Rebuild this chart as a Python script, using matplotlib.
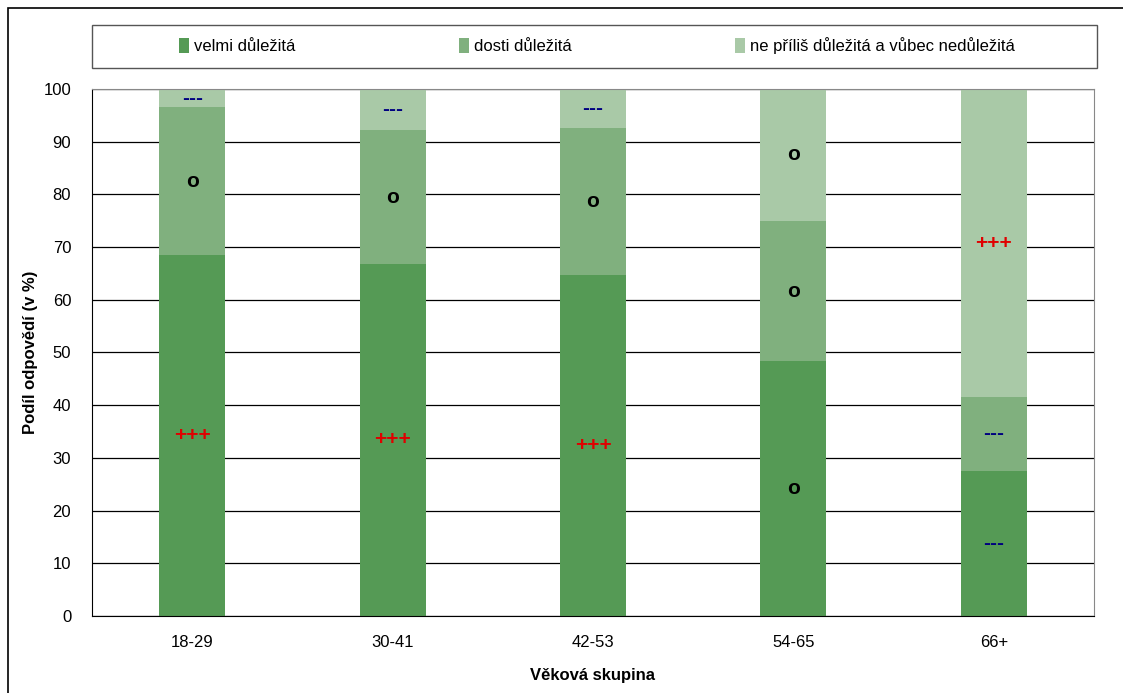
import numpy as np
import matplotlib.pyplot as plt
from matplotlib.patches import Patch, Rectangle

plt.rcParams['font.family'] = ['Liberation Sans', 'DejaVu Sans']

# data
groups = ["18-29", "30-41", "42-53", "54-65", "66+"]
velmi = [68.5, 66.8, 64.8, 48.3, 27.6]
dosti = [28.0, 25.4, 27.8, 26.7, 13.9]
nizka = [3.5, 7.8, 7.4, 25.0, 58.5]
series_names = ["velmi důležitá", "dosti důležitá", "ne příliš důležitá a vůbec nedůležitá"]

# significance signs per segment (velmi, dosti, nizka)
signs_velmi = ["+++", "+++", "+++", "o", "---"]
signs_dosti = ["o", "o", "o", "o", "---"]
signs_nizka = ["---", "---", "---", "o", "+++"]

colors = ["#559a55", "#80b07e", "#a9c9a7"]
sign_colors = {"+++": "#e00000", "---": "#000080", "o": "black"}

W, H = 1123, 693
fig = plt.figure(figsize=(W / 100, H / 100), dpi=100)
ax = fig.add_axes([92 / W, 1 - 616 / H, (1094 - 92) / W, (616 - 89) / H])

x = np.arange(len(groups))
w = 0.33
bottom = np.zeros(len(groups))
all_signs = [signs_velmi, signs_dosti, signs_nizka]
for vals, col, signs in zip([velmi, dosti, nizka], colors, all_signs):
    vals = np.array(vals)
    ax.bar(x, vals, w, bottom=bottom, color=col, zorder=2)
    for xi, b, v, s in zip(x, bottom, vals, signs):
        ax.text(xi, b + v / 2, s, ha="center", va="center", fontsize=15,
                fontweight="bold", color=sign_colors[s], zorder=3)
    bottom = bottom + vals

ax.set_xlim(-0.5, len(groups) - 0.5)
ax.set_ylim(0, 100)
ax.set_yticks(np.arange(0, 101, 10))
ax.set_xticks(x)
ax.set_xticklabels(groups)
ax.tick_params(axis="both", length=0, labelsize=12)
ax.tick_params(axis="x", pad=14)
ax.tick_params(axis="y", pad=15)
ax.yaxis.grid(True, color="black", linewidth=0.9, zorder=1)
ax.set_axisbelow(True)
for side in ["top", "right"]:
    ax.spines[side].set_color("#888888")
for side in ["left", "bottom"]:
    ax.spines[side].set_color("black")

ax.set_ylabel("Podíl odpovědí (v %)", fontsize=12, fontweight="bold")
ax.set_xlabel("Věková skupina", fontsize=12, fontweight="bold")
ax.yaxis.set_label_coords((38 - 92) / 1002, 0.5)
ax.xaxis.set_label_coords(0.5, (616 - 668) / 527)

handles = [Patch(facecolor=c, edgecolor="none") for c in colors]
leg = fig.legend(handles, series_names, ncol=3, loc="center",
                 bbox_to_anchor=(597 / W, 1 - 46 / H),
                 fontsize=12, frameon=False,
                 handlelength=0.6, handleheight=1.0, handletextpad=0.3,
                 columnspacing=9.8)

# legend frame
fig.patches.append(Rectangle((92 / W, 1 - 68 / H), (1097 - 92) / W, 43 / H,
                             transform=fig.transFigure, fill=False,
                             edgecolor="#555555", linewidth=1.0))

# outer chart border
fig.patches.append(Rectangle((8 / W, -0.1), 1.2, 1 - 8 / H + 0.1,
                             transform=fig.transFigure, fill=False,
                             edgecolor="black", linewidth=1.2))

fig.savefig("out.png", dpi=100)
